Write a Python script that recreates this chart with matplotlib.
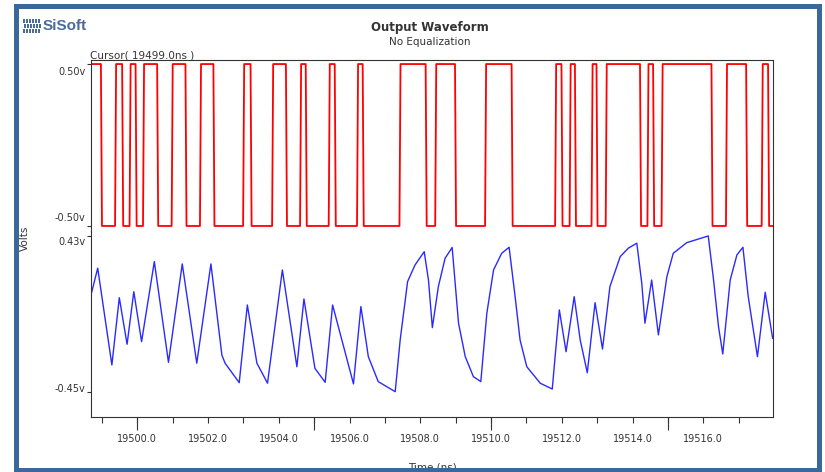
import matplotlib
matplotlib.use('Agg')
import matplotlib.pyplot as plt
import matplotlib.transforms as mtransforms
from matplotlib.patches import Rectangle
from matplotlib.ticker import MultipleLocator

# red trace (driver output): starting level and edge times in ns
red_start = 0.5
red_edges = [19498.97, 19499.37, 19499.57, 19499.78, 19499.95, 19500.16, 19500.56,
             19500.97, 19501.36, 19501.77, 19502.15, 19502.99, 19503.20, 19503.81,
             19504.20, 19504.60, 19504.76, 19505.41, 19505.58, 19506.21, 19506.37,
             19507.41, 19508.15, 19508.42, 19508.98, 19509.83, 19510.58, 19511.81,
             19511.99, 19512.22, 19512.37, 19512.84, 19512.98, 19513.24, 19514.21,
             19514.42, 19514.58, 19514.82, 19516.23, 19516.64, 19517.21, 19517.65,
             19517.83]
edge_time = 0.03

# blue trace (receiver, no equalization)
blue_t = [19498.69, 19498.88, 19499.28, 19499.49, 19499.71, 19499.90, 19500.12, 19500.48,
          19500.88, 19501.27, 19501.68, 19502.08, 19502.39, 19502.48, 19502.88, 19503.11,
          19503.38, 19503.68, 19504.10, 19504.51, 19504.71, 19505.02, 19505.31, 19505.52,
          19506.11, 19506.32, 19506.53, 19506.81, 19507.29, 19507.43, 19507.64, 19507.85,
          19508.11, 19508.23, 19508.34, 19508.51, 19508.70, 19508.90, 19509.08, 19509.27,
          19509.50, 19509.71, 19509.88, 19510.07, 19510.30, 19510.51, 19510.68, 19510.82,
          19511.01, 19511.39, 19511.73, 19511.81, 19511.93, 19512.12, 19512.35, 19512.52,
          19512.72, 19512.94, 19513.15, 19513.36, 19513.65, 19513.88, 19514.12, 19514.26,
          19514.35, 19514.54, 19514.73, 19514.97, 19515.15, 19515.53, 19516.14, 19516.29,
          19516.43, 19516.55, 19516.76, 19516.95, 19517.12, 19517.27, 19517.53, 19517.75,
          19517.96]
blue_v = [0.097, 0.248, -0.299, 0.081, -0.182, 0.115, -0.167, 0.285,
          -0.284, 0.272, -0.289, 0.272, -0.243, -0.289, -0.399, 0.040,
          -0.289, -0.402, 0.238, -0.309, 0.074, -0.318, -0.397, 0.040,
          -0.406, 0.031, -0.252, -0.393, -0.450, -0.158, 0.172, 0.266,
          0.341, 0.181, -0.088, 0.144, 0.304, 0.365, -0.063, -0.252,
          -0.365, -0.393, -0.007, 0.238, 0.332, 0.366, 0.087, -0.158,
          -0.309, -0.402, -0.435, -0.252, 0.012, -0.224, 0.087, -0.158,
          -0.343, 0.053, -0.209, 0.144, 0.313, 0.361, 0.389, 0.163,
          -0.063, 0.181, -0.129, 0.200, 0.332, 0.392, 0.430, 0.181,
          -0.083, -0.237, 0.181, 0.323, 0.366, 0.087, -0.252, 0.112,
          -0.148]

x_min, x_max = 19498.69, 19517.97
x_ticks = [19500.0, 19502.0, 19504.0, 19506.0, 19508.0, 19510.0, 19512.0, 19514.0, 19516.0]
x_long_ticks = [19500.0, 19505.0, 19510.0, 19515.0]
red_ticks = [0.5, -0.5]
red_tick_labels = ['0.50v', '-0.50v']
blue_ticks = [0.43, -0.45]
blue_tick_labels = ['0.43v', '-0.45v']
cursor_time = 19499.0

W, H = 825, 472
def fx(px):
    return px / W
def fy(py):
    return 1 - py / H

txt = '#333333'
fig = plt.figure(figsize=(W / 100, H / 100), dpi=100)

ax_red = fig.add_axes([fx(91), fy(231), fx(773) - fx(91), fy(60) - fy(231)])
ax_blue = fig.add_axes([fx(91), fy(417), fx(773) - fx(91), fy(231) - fy(417)], sharex=ax_red)

# build the red step trace from its edges
rt, rv = [x_min], [red_start]
level = red_start
for e in red_edges:
    rt += [e, e + edge_time]
    rv += [level, -level]
    level = -level
rt.append(x_max)
rv.append(level)

ax_red.plot(rt, rv, color='#ff0000', lw=1.3)
ax_blue.plot(blue_t, blue_v, color='#2a2aff', lw=1.0)

ax_red.set_xlim(x_min, x_max)
ax_red.set_ylim(-0.531, 0.525)
ax_blue.set_ylim(-0.593, 0.458)

for ax in (ax_red, ax_blue):
    for s in ax.spines.values():
        s.set_color(txt)
        s.set_linewidth(0.8)
ax_red.spines['bottom'].set_visible(False)
ax_blue.spines['top'].set_visible(False)

ax_red.tick_params(axis='x', bottom=False, labelbottom=False)
ax_red.set_yticks(red_ticks, labels=red_tick_labels)
ax_blue.set_yticks(blue_ticks, labels=blue_tick_labels)
# SiSoft puts the value labels a little inside the tick marks
shifts = {ax_red: (-3, 3), ax_blue: (-1, -2)}
for ax in (ax_red, ax_blue):
    ax.tick_params(axis='y', direction='out', length=3, width=0.8, color=txt,
                   labelsize=7, labelcolor=txt, pad=1)
    lbls = ax.get_yticklabels()
    lbls[0].set_va('top')
    lbls[1].set_va('bottom')
    for lbl, dy in zip(lbls, shifts[ax]):
        lbl.set_transform(lbl.get_transform() +
                          mtransforms.ScaledTranslation(0, dy / 100, fig.dpi_scale_trans))

ax_blue.set_xticks(x_ticks, labels=['%.1f' % v for v in x_ticks])
ax_blue.xaxis.set_minor_locator(MultipleLocator(1.0))
ax_blue.tick_params(axis='x', which='both', direction='out', length=4.5, width=0.8,
                    color=txt, labelsize=7, labelcolor=txt, pad=8)

# longer ticks every 5 ns
sec = ax_blue.secondary_xaxis('bottom')
sec.set_xticks(x_long_ticks)
sec.tick_params(axis='x', direction='out', length=9.5, width=0.8, color=txt, labelbottom=False)
sec.spines['bottom'].set_visible(False)

fig.text(fx(430), fy(27), 'Output Waveform', ha='center', va='center',
         fontsize=8.5, fontweight='bold', color=txt)
fig.text(fx(430), fy(42), 'No Equalization', ha='center', va='center',
         fontsize=7.5, color=txt)
fig.text(fx(90), fy(56), 'Cursor( %.1fns )' % cursor_time, ha='left', va='center',
         fontsize=7.5, color=txt)
fig.text(fx(25), fy(238), 'Volts', rotation=90, ha='center', va='center',
         fontsize=7.5, color=txt)
fig.text(fx(432), fy(467), 'Time (ns)', ha='center', va='center',
         fontsize=7.5, color=txt)

# logo
logo = '#4a6a9c'
for i in range(6):
    for j, (y0, y1) in enumerate([(19, 23), (24.5, 28), (29.5, 33)]):
        x0 = 23 + i * 3 + (j % 2)
        fig.add_artist(Rectangle((fx(x0), fy(y1)), 1.8 / W, (y1 - y0) / H,
                                 transform=fig.transFigure, color=logo, lw=0))
fig.text(fx(43), fy(26), 'SiSoft', ha='left', va='center', fontsize=11,
         fontweight='bold', color=logo, family='Liberation Sans')

# window frame
fig.add_artist(Rectangle((fx(15.5), fy(469.5)), fx(818.5) - fx(15.5), fy(6) - fy(469.5),
                         transform=fig.transFigure, fill=False, edgecolor='#3a6898',
                         lw=3.6, zorder=10))

fig.savefig('out.png', dpi=100)
